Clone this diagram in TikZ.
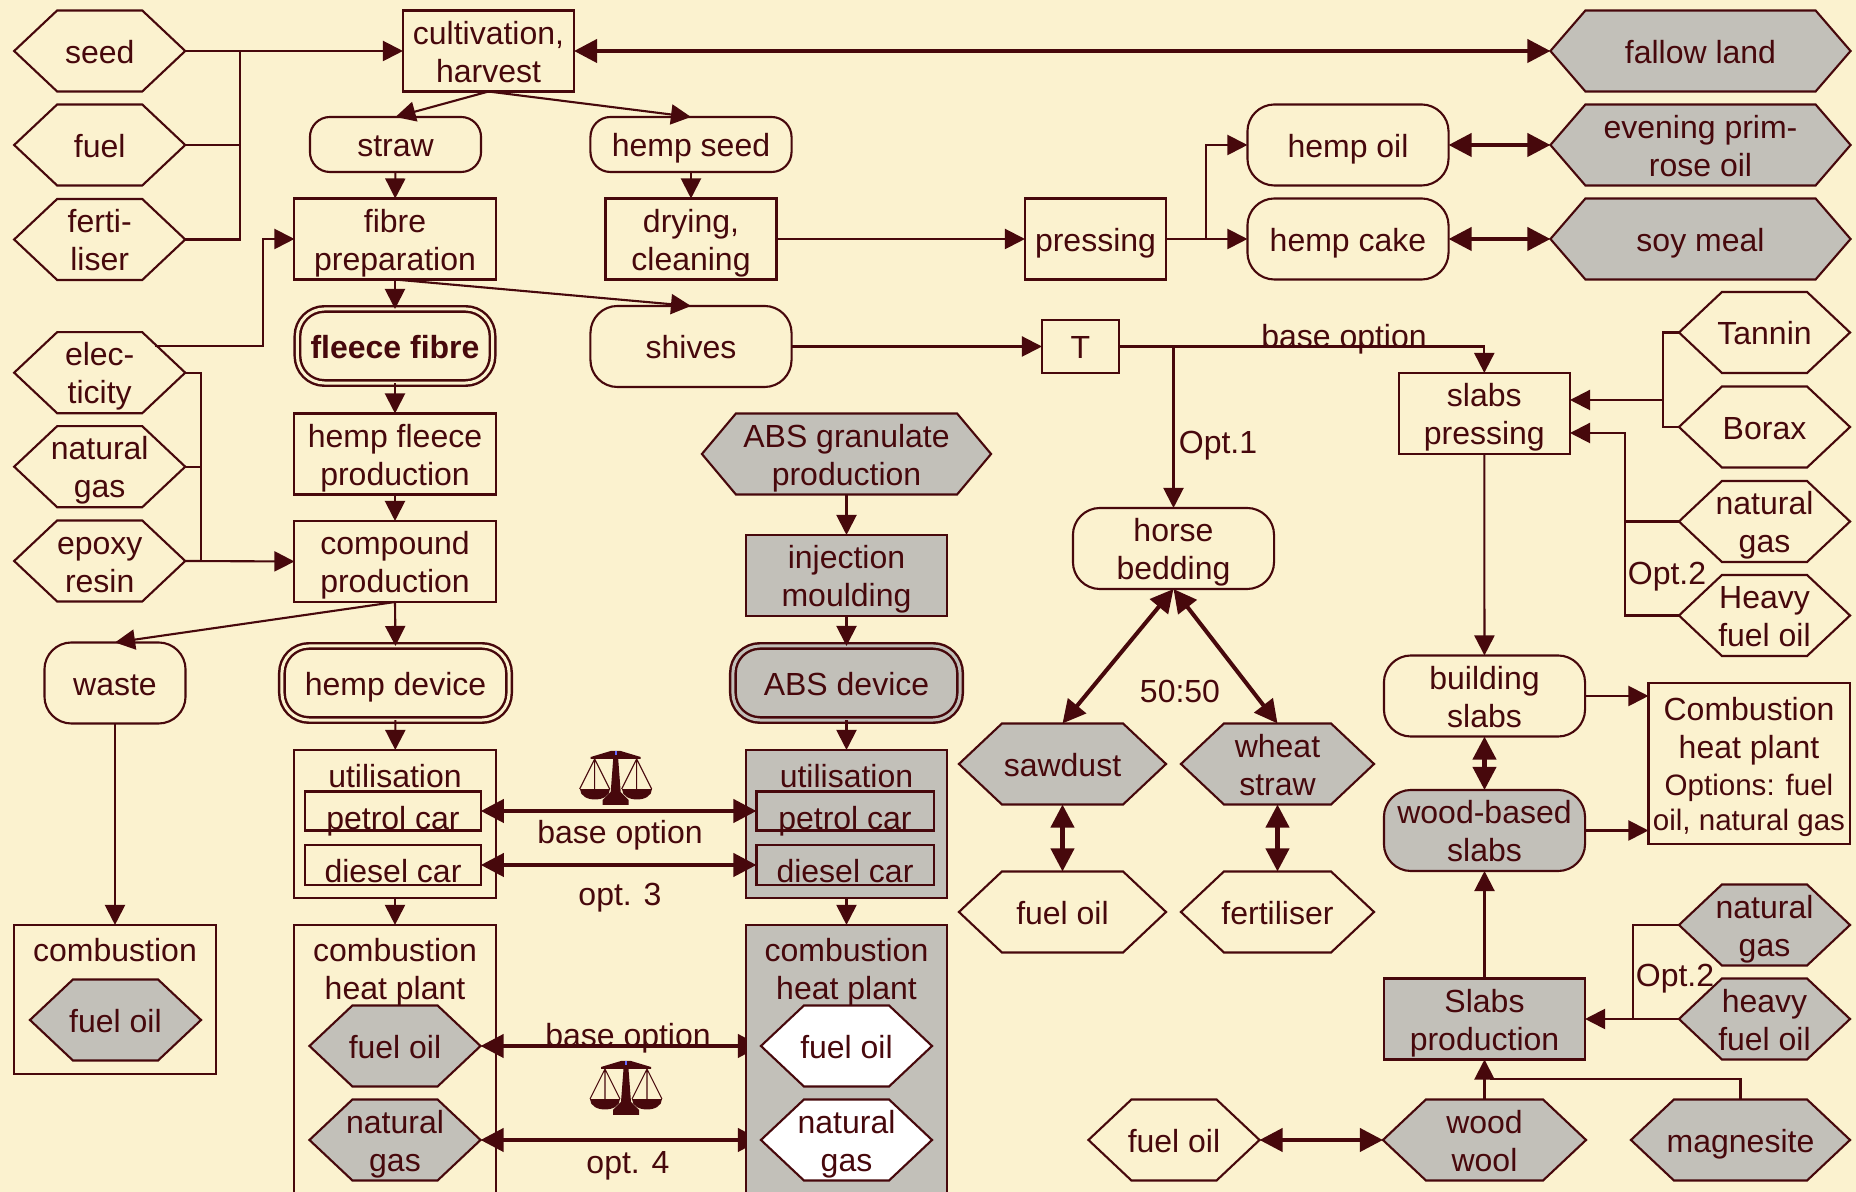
\documentclass[tikz,border=0pt]{standalone}
\usepackage{fontspec}
\setmainfont{Liberation Sans}
\usetikzlibrary{arrows.meta,calc}

\definecolor{paper}{RGB}{251,242,207}
\definecolor{ink}{RGB}{71,8,12}
\definecolor{stone}{RGB}{194,192,185}

\pgfdeclarelayer{back}
\pgfsetlayers{back,main}

\newdimen\hexleft
\newdimen\hexright
\newdimen\hextop
\newdimen\hexbot
\newdimen\hexmid
\def\hexdx{0.43cm}
\makeatletter
\pgfdeclareshape{hexbox}{
    \inheritsavedanchors[from=rectangle]
    \inheritanchorborder[from=rectangle]
    \inheritanchor[from=rectangle]{center}
    \inheritanchor[from=rectangle]{north}
    \inheritanchor[from=rectangle]{south}
    \inheritanchor[from=rectangle]{east}
    \inheritanchor[from=rectangle]{west}
    \backgroundpath{
        \southwest \hexleft=\pgf@x \hexbot=\pgf@y
        \northeast \hexright=\pgf@x \hextop=\pgf@y
        \hexmid=.5\hexbot \advance\hexmid by .5\hextop
        \pgfpathmoveto{\pgfqpoint{\hexleft}{\hexmid}}
        \advance\hexleft by \hexdx
        \advance\hexright by -\hexdx
        \pgfpathlineto{\pgfqpoint{\hexleft}{\hextop}}
        \pgfpathlineto{\pgfqpoint{\hexright}{\hextop}}
        \advance\hexright by \hexdx
        \pgfpathlineto{\pgfqpoint{\hexright}{\hexmid}}
        \advance\hexright by -\hexdx
        \pgfpathlineto{\pgfqpoint{\hexright}{\hexbot}}
        \pgfpathlineto{\pgfqpoint{\hexleft}{\hexbot}}
        \pgfpathclose
    }
}
\makeatother

\tikzset{
    hex dx/.code={\def\hexdx{#1}},
    every node/.style={text=ink, align=center, inner sep=0pt, outer sep=0pt,
        text height=0.245cm, text depth=0pt,
        font=\fontsize{9.1}{10.8}\selectfont},
    twolines/.style={text height=0.625cm},
    outline/.style={draw=ink, line width=0.6pt},
    hexnode/.style={outline, shape=hexbox, minimum width=1.71cm, minimum height=0.81cm},
    grayhex/.style={hexnode, fill=stone},
    whitehex/.style={hexnode, fill=white},
    box/.style={outline, rectangle, minimum width=2.01cm, minimum height=0.81cm},
    graybox/.style={box, fill=stone},
    soft/.style={outline, rectangle, rounded corners=0.27cm, minimum width=2.01cm, minimum height=0.81cm},
    graysoft/.style={soft, fill=stone},
    ringed/.style={soft, line width=0.7pt, double=paper, double distance=0.03cm, minimum width=1.95cm, minimum height=0.74cm},
    flow/.style={draw=ink, line width=0.6pt, -{Triangle[length=0.2cm,width=0.2cm]}},
    wire/.style={draw=ink, line width=0.6pt},
    swap/.style={draw=ink, line width=1.15pt, {Triangle[length=0.23cm,width=0.23cm]}-{Triangle[length=0.23cm,width=0.23cm]}},
    balance/.pic={
        \fill[ink] (-25,7) -- (-5,1) -- (5,1) -- (25,7) -- (25,9) -- (-25,9) -- cycle;
        \fill[ink] (-2.5,9) -- (2.5,9) -- (5,42) -- (13,50) -- (13,55) -- (-13,55) -- (-13,50) -- (-5,42) -- cycle;
        \fill[blue!60!white] (-0.8,1) rectangle (0.8,5);
        \foreach \side in {-21,21} {
            \fill[ink] (\side-15,39) .. controls (\side-15,53) and (\side+15,53) .. (\side+15,39) -- cycle;
            \draw[ink, line width=0.3pt] (\side-15,39) -- (\side,9) -- (\side+15,39) (\side,9) -- (\side,39);
        }
    }
}

\begin{document}
\begin{tikzpicture}[x=0.01cm, y=-0.01cm]
    \useasboundingbox (0,0) rectangle (1856,1192);
    \begin{pgfonlayer}{back}
        \fill[paper] (0,0) rectangle (1856,1192);
    \end{pgfonlayer}
    \clip (0,0) rectangle (1856,1192);

    \node[hexnode] (seed) at (99.7,51) {seed};
    \node[hexnode] (fuel) at (99.7,145) {fuel};
    \node[hexnode, twolines] (ferti) at (99.7,239.5) {ferti-\\liser};
    \node[hexnode, twolines] (elec) at (99.7,372.7) {elec-\\ticity};
    \node[hexnode, twolines] (gasleft) at (99.7,466.7) {natural\\gas};
    \node[hexnode, twolines] (epoxy) at (99.7,561) {epoxy\\resin};
    \node[soft, minimum width=1.41cm] (waste) at (115,683) {waste};
    \node[box, minimum height=1.49cm] (burn) at (115,999.5) {};
    \node (burntext) at (115,949) {combustion};
    \node[grayhex] (burnoil) at (115.5,1020) {fuel oil};

    \node[box, minimum width=1.71cm, twolines] (cult) at (488.5,51) {cultivation,\\harvest};
    \node[soft, minimum width=1.71cm, minimum height=0.55cm, rounded corners=0.2cm] (straw) at (395.5,144.5) {straw};
    \node[box, twolines] (fibre) at (395,239) {fibre\\preparation};
    \node[ringed, font=\fontsize{9.1}{10.8}\selectfont\bfseries] (fleece) at (395,346) {fleece fibre};
    \node[box, twolines] (hfp) at (395,454) {hemp fleece\\production};
    \node[box, twolines] (compound) at (395,561.5) {compound\\production};
    \node[ringed, minimum width=2.27cm] (hempdev) at (395.5,683) {hemp device};

    \node[box, minimum height=1.48cm] (utilh) at (395,824) {};
    \node (utilhtext) at (395,775) {utilisation};
    \node[box, minimum width=1.755cm, minimum height=0.39cm] (petrolh) at (393,811) {};
    \node (petrolhtext) at (393,817) {petrol car};
    \node[box, minimum width=1.755cm, minimum height=0.4cm] (dieselh) at (393,865) {};
    \node (dieselhtext) at (393,870) {diesel car};
    \node[box, minimum height=2.85cm] (planth) at (395,1067.5) {};
    \node[twolines] (planthtext) at (395,968.5) {combustion\\heat plant};
    \node[grayhex] (oilh) at (395,1046) {fuel oil};
    \node[grayhex, twolines] (gash) at (395,1140) {natural\\gas};

    \node[soft, minimum height=0.55cm, rounded corners=0.2cm] (hseed) at (691,144.5) {hemp seed};
    \node[box, minimum width=1.71cm, twolines] (dry) at (691,239) {drying,\\cleaning};
    \node[soft] (shives) at (691,346.5) {shives};

    \node[grayhex, minimum width=2.89cm, hex dx=0.34cm, twolines] (absgran) at (846.5,454) {ABS granulate\\production};
    \node[graybox, twolines] (inject) at (846.5,575.5) {injection\\moulding};
    \node[ringed, minimum width=2.27cm, fill=stone, double=stone] (absdev) at (846.5,683) {ABS device};
    \node[graybox, minimum height=1.48cm] (utila) at (846.5,824) {};
    \node (utilatext) at (846.5,775) {utilisation};
    \node[box, minimum width=1.77cm, minimum height=0.39cm] (petrola) at (845,811) {};
    \node (petrolatext) at (845,817) {petrol car};
    \node[box, minimum width=1.77cm, minimum height=0.4cm] (diesela) at (845,865) {};
    \node (dieselatext) at (845,870) {diesel car};
    \node[graybox, minimum height=2.85cm] (planta) at (846.5,1067.5) {};
    \node[twolines] (plantatext) at (846.5,968.5) {combustion\\heat plant};
    \node[whitehex] (oila) at (846.5,1046) {fuel oil};
    \node[whitehex, twolines] (gasa) at (846.5,1140) {natural\\gas};

    \node[box, minimum width=1.41cm] (press) at (1095.5,239) {pressing};
    \node[soft] (hoil) at (1348,145) {hemp oil};
    \node[soft] (hcake) at (1348,239) {hemp cake};
    \node[grayhex, minimum width=3cm, hex dx=0.35cm] (fallow) at (1700.5,51) {fallow land};
    \node[grayhex, minimum width=3cm, hex dx=0.35cm, twolines] (prim) at (1700.5,145) {evening prim-\\rose oil};
    \node[grayhex, minimum width=3cm, hex dx=0.35cm] (soy) at (1700.5,239) {soy meal};

    \node[box, minimum width=0.77cm, minimum height=0.53cm] (T) at (1080.5,346.5) {T};
    \node[soft, twolines] (horse) at (1173.5,548.5) {horse\\bedding};
    \node[grayhex, minimum width=2.07cm] (saw) at (1062.5,764) {sawdust};
    \node[grayhex, minimum width=1.93cm, twolines] (wheat) at (1277.5,764) {wheat\\straw};
    \node[hexnode, minimum width=2.07cm] (sawoil) at (1062.5,912) {fuel oil};
    \node[hexnode, minimum width=1.93cm] (fert) at (1277.5,912) {fertiliser};

    \node[box, minimum width=1.71cm, twolines] (slabsp) at (1484.3,413.5) {slabs\\pressing};
    \node[hexnode] (tannin) at (1764.5,332.5) {Tannin};
    \node[hexnode] (borax) at (1764.5,427) {Borax};
    \node[hexnode, twolines] (gasright) at (1764.5,521.5) {natural\\gas};
    \node[hexnode, twolines] (heavy) at (1764.5,615.5) {Heavy\\fuel oil};
    \node[soft, twolines] (bslabs) at (1484.5,696) {building\\slabs};
    \node[graysoft, twolines] (wslabs) at (1484.5,830.5) {wood-based\\slabs};
    \node[box, minimum height=1.61cm, text height=1.345cm] (heat) at (1749,763.3) {Combustion\\heat plant\\[-0.35pt]{\fontsize{8.4}{10.3}\selectfont Options: fuel}\\[-0.7pt]{\fontsize{8.4}{10.3}\selectfont oil, natural gas}};
    \node[graybox, twolines] (slabprod) at (1484.5,1019) {Slabs\\production};
    \node[grayhex, twolines] (gasslab) at (1764.5,925) {natural\\gas};
    \node[grayhex, twolines] (heavyslab) at (1764.5,1019) {heavy\\fuel oil};
    \node[grayhex, minimum width=2.03cm, twolines] (wool) at (1484.5,1140) {wood\\wool};
    \node[grayhex, minimum width=2.19cm] (magn) at (1740.5,1140) {magnesite};
    \node[hexnode] (wooloil) at (1174,1140) {fuel oil};

    \coordinate (seedjoin) at (240,51);
    \draw[flow] (seed.east) -- (cult.west);
    \draw[wire] (fuel.east) -| (seedjoin);
    \draw[wire] (ferti.east) -| (seedjoin);

    \coordinate (elecout) at (155,346);
    \coordinate (elecbend) at (263,239);
    \coordinate (epoxyjoin) at (200.7,561);
    \draw[flow] (elecout) -| (elecbend) -- (fibre.west);
    \draw[wire] (elec.east) -| (epoxyjoin);
    \draw[wire] (gasleft.east) -| (epoxyjoin);
    \draw[flow] (epoxy.east) -- (compound.west);

    \draw[flow] (cult.south) -- (straw.north);
    \draw[flow] (cult.south) -- (hseed.north);
    \draw[flow] (straw) -- (fibre);
    \draw[flow] (hseed) -- (dry);
    \draw[flow] (fibre.south) -- (fleece.north);
    \draw[flow] (fibre.south) -- (shives.north);
    \draw[flow] (fleece) -- (hfp);
    \draw[flow] (hfp) -- (compound);
    \draw[flow] (compound.south) -- (waste.north);
    \draw[flow] (compound.south) -- (hempdev.north);
    \draw[flow] (hempdev) -- (utilh);
    \draw[flow] (utilh) -- (planth);
    \draw[flow] (waste) -- (burn);

    \draw[flow] (absgran) -- (inject);
    \draw[flow] (inject) -- (absdev);
    \draw[flow] (absdev) -- (utila);
    \draw[flow] (utila) -- (planta);

    \draw[swap] (petrolh.east) -- (petrola.west);
    \draw[swap] (dieselh.east) -- (diesela.west);
    \begin{pgfonlayer}{back}
        \draw[swap] (oilh.east) -- (oila.west);
        \draw[swap] (gash.east) -- (gasa.west);
    \end{pgfonlayer}
    \node (basea) at (620,831) {base option};
    \node (opta) at (620,893) {opt. 3};
    \node (baseb) at (628,1034) {base option};
    \node (optb) at (628,1161) {opt. 4};
    \pic (balancea) at (615.7,750) {balance};
    \pic (balanceb) at (626,1060) {balance};

    \draw[flow] (dry) -- (press);
    \draw[flow] (press) -- (hcake);
    \coordinate (pressjoin) at (1206,239);
    \draw[flow] (pressjoin) |- (hoil.west);
    \draw[swap] (cult) -- (fallow);
    \draw[swap] (hoil) -- (prim);
    \draw[swap] (hcake) -- (soy);

    \draw[flow] (shives) -- (T);
    \draw[flow] (T.east) -| (slabsp.north);
    \node (basec) at (1344,335) {base option};
    \coordinate (optjoin) at (1173.5,346.5);
    \draw[flow] (optjoin) -- (horse.north);
    \node (optc) at (1218,441.5) {Opt.1};
    \node (ratio) at (1180,690) {50:50};
    \draw[swap] (horse.south) -- (saw.north);
    \draw[swap] (horse.south) -- (wheat.north);
    \draw[swap] (saw) -- (sawoil);
    \draw[swap] (wheat) -- (fert);

    \coordinate (addjoin) at (1663,400);
    \coordinate (addend) at (1570,400);
    \coordinate (gasjoin) at (1625,433);
    \coordinate (gasend) at (1570,433);
    \draw[wire] (tannin.west) -| (addjoin);
    \draw[wire] (borax.west) -| (addjoin);
    \draw[flow] (addjoin) -- (addend);
    \draw[flow] (heavy.west) -| (gasjoin) -- (gasend);
    \coordinate (gasjointwo) at (1625,521.5);
    \draw[wire] (gasright.west) -- (gasjointwo);
    \node (optd) at (1667,572) {Opt.2};

    \draw[flow] (slabsp) -- (bslabs);
    \draw[swap] (bslabs) -- (wslabs);
    \draw[flow] (bslabs.east) -- (bslabs.east -| heat.west);
    \draw[flow] (wslabs.east) -- (wslabs.east -| heat.west);
    \draw[flow] (slabprod) -- (wslabs);
    \draw[flow] (wool) -- (slabprod);
    \coordinate (magnend) at (1490,1079);
    \draw[wire] (magn.north) |- (magnend);
    \draw[swap] (wooloil) -- (wool);
    \coordinate (slabjoin) at (1632.7,1019);
    \draw[flow] (heavyslab.west) -- (slabprod.east);
    \draw[wire] (gasslab.west) -| (slabjoin);
    \node (opte) at (1675,974) {Opt.2};
\end{tikzpicture}
\end{document}
